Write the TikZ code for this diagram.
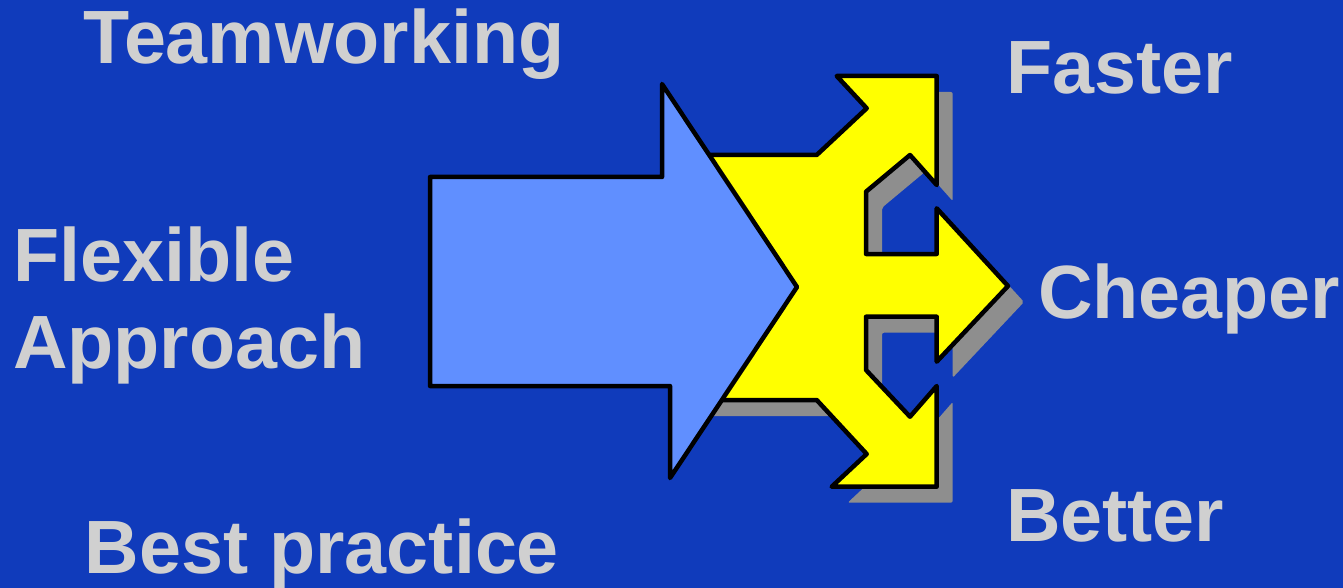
\documentclass[tikz,border=0pt]{standalone}
\usepackage{fontspec}
\setmainfont{Liberation Sans}
\definecolor{bg}{RGB}{16,59,187}
\definecolor{txt}{RGB}{208,208,208}
\definecolor{arrowblue}{RGB}{96,143,255}
\definecolor{shadowgray}{RGB}{142,142,142}
\definecolor{arrowyellow}{RGB}{255,255,0}
\begin{document}
\begin{tikzpicture}[x=1pt,y=-1pt,
  lbl/.style={text=txt,font=\fontsize{75.5}{80}\selectfont\bfseries,inner sep=0pt},
  outline/.style={draw=black,line width=4.5pt,line join=round}]
\fill[bg] (0,0) rectangle (1343,588);
\useasboundingbox (0,0) rectangle (1343,588);
\def\yellowpath{(690,155) -- (816.7,155) -- (866.7,108.3) -- (836.7,76) -- (936.7,76) -- (936.7,185) -- (910,155) -- (866,191.7) -- (866,254) -- (936.7,254) -- (936.7,208.3) -- (1008,286) -- (936.7,361.7) -- (936.7,316.7) -- (866,316.7) -- (866,370) -- (910,416.7) -- (936.7,386) -- (936.7,486.7) -- (831.7,486.7) -- (866.7,454) -- (816.7,400) -- (690,400) -- cycle}
% shadow
\fill[fill=shadowgray,rounded corners=2pt,shift={(16,16)}] \yellowpath;
% yellow split arrow
\filldraw[outline,fill=arrowyellow] \yellowpath;
% blue arrow
\filldraw[outline,fill=arrowblue] (430,177) -- (662,177) -- (662,84) -- (797,287) -- (670,478) -- (670,386) -- (430,386) -- cycle;
% labels
\node[lbl,anchor=base] (team) at (324,64) {Teamworking};
\node[lbl,anchor=base west] (flex) at (13,281.7) {Flexible};
\node[lbl,anchor=base west] (appr) at (13,368.3) {Approach};
\node[lbl,anchor=base] (best) at (322,573) {Best practice};
\node[lbl,anchor=base west] (fast) at (1006,93.3) {Faster};
\node[lbl,anchor=base west] (cheap) at (1038,318.3) {Cheaper};
\node[lbl,anchor=base west] (bett) at (1006,541.7) {Better};
\end{tikzpicture}
\end{document}
